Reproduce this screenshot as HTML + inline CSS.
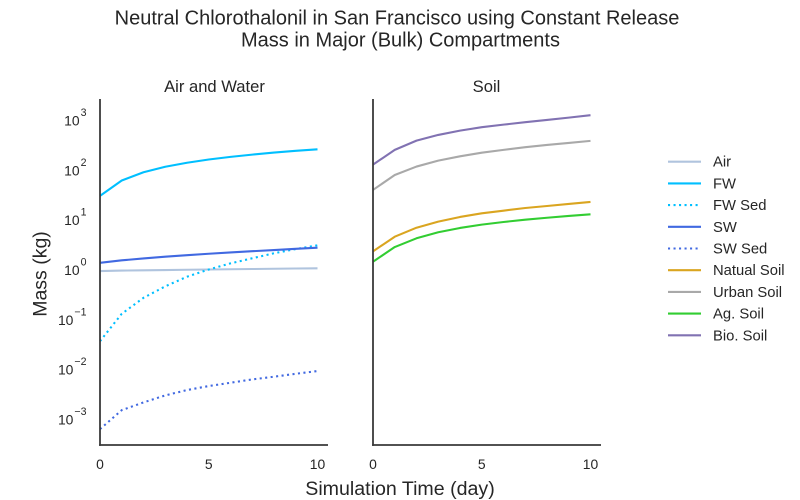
<!DOCTYPE html>
<html lang="en">
<head>
<meta charset="utf-8">
<title>Neutral Chlorothalonil in San Francisco</title>
<style>
html,body{margin:0;padding:0;background:#fff;}
svg{display:block;font-family:"Liberation Sans",Arial,sans-serif;fill:#262626;}
</style>
</head>
<body>
<svg id="chart" xmlns="http://www.w3.org/2000/svg" width="800" height="500" viewBox="0 0 800 500">
  <text x="397" y="24.5" font-size="20" text-anchor="middle">Neutral Chlorothalonil in San Francisco using Constant Release</text>
  <text x="400.5" y="46.5" font-size="20" text-anchor="middle">Mass in Major (Bulk) Compartments</text>
  <text x="214.5" y="92" font-size="16.6" text-anchor="middle">Air and Water</text>
  <text x="486.5" y="92" font-size="16.6" text-anchor="middle">Soil</text>
  <text transform="translate(46.5,274) rotate(-90)" font-size="19.5" text-anchor="middle">Mass (kg)</text>
  <text x="400" y="495" font-size="19.6" text-anchor="middle">Simulation Time (day)</text>
  <g id="panels"></g>
  <g id="legend"></g>
</svg>
<script>
const days = [0, 1, 2, 3, 4, 5, 6, 7, 8, 9, 10];
const xTickValues = [0, 5, 10];
const yTickExponents = [3, 2, 1, 0, -1, -2, -3];

const airValues = [0.79, 0.81, 0.82, 0.83, 0.84, 0.85, 0.86, 0.87, 0.88, 0.89, 0.90];
const fwValues = [25.5, 52, 76, 98, 118, 137, 155, 172, 189, 205, 220];
const fwSedValues = [0.031, 0.11, 0.23, 0.39, 0.61, 0.85, 1.13, 1.43, 1.80, 2.19, 2.6];
const swValues = [1.16, 1.3, 1.42, 1.54, 1.65, 1.76, 1.87, 1.98, 2.09, 2.21, 2.33];
const swSedValues = [0.000533, 0.00128, 0.00183, 0.00253, 0.00324, 0.0039, 0.00454, 0.0053, 0.006, 0.00687, 0.0078];
const naturalSoilValues = [1.97, 3.87, 5.87, 7.76, 9.64, 11.4, 12.9, 14.6, 16, 17.6, 19.3];
const urbanSoilValues = [33.6, 67, 99, 130, 159, 188, 214, 242, 269, 295, 324];
const agSoilValues = [1.22, 2.4, 3.6, 4.75, 5.8, 6.76, 7.65, 8.5, 9.3, 10.1, 10.9];
const bioSoilValues = [108, 214, 328, 427, 521, 610, 687, 768, 853, 950, 1062];

const seriesLabels = ['Air', 'FW', 'FW Sed', 'SW', 'SW Sed', 'Natual Soil', 'Urban Soil', 'Ag. Soil', 'Bio. Soil'];
const seriesKeys = ['air', 'fw', 'fw-sed', 'sw', 'sw-sed', 'natural-soil', 'urban-soil', 'ag-soil', 'bio-soil'];
const seriesColors = ['#b0c4de', '#00bfff', '#00bfff', '#4169e1', '#4169e1', '#daa520', '#a9a9a9', '#32cd32', '#8172b2'];
const seriesDotted = [false, false, true, false, true, false, false, false, false];
const seriesPanel = [0, 0, 0, 0, 0, 1, 1, 1, 1];
const seriesValues = [airValues, fwValues, fwSedValues, swValues, swSedValues, naturalSoilValues, urbanSoilValues, agSoilValues, bioSoilValues];

const NS = 'http://www.w3.org/2000/svg';
const panelOrigins = [100, 373];
const panelKeys = ['air-water', 'soil'];
const dayWidth = 21.75;
const axisTop = 99;
const axisBottom = 445;
const axisWidth = 228;

function xScale(panel, day) {
  return panelOrigins[panel] + day * dayWidth;
}
function yScale(value) {
  return 266 - 49.83 * Math.log10(value);
}
function make(tag, attrs) {
  const el = document.createElementNS(NS, tag);
  for (const k in attrs) el.setAttribute(k, attrs[k]);
  return el;
}

const panelsGroup = document.getElementById('panels');
const legendGroup = document.getElementById('legend');

panelOrigins.forEach(function (origin, p) {
  const g = make('g', {});
  
  
  panelsGroup.appendChild(g);

  seriesValues.forEach(function (vals, i) {
    if (seriesPanel[i] !== p) return;
    const pts = vals.map(function (v, j) {
      return xScale(p, days[j]).toFixed(2) + ',' + yScale(v).toFixed(2);
    }).join(' ');
    const line = make('polyline', {
      points: pts,
      fill: 'none',
      stroke: seriesColors[i],
      'stroke-width': 2.08,
      'stroke-linejoin': 'round'
    });
    if (seriesDotted[i]) line.setAttribute('stroke-dasharray', '2.08 3.43');
    
    
    g.appendChild(line);
  });

  const yAxis = make('line', { x1: origin, x2: origin, y1: axisTop, y2: axisBottom + 0.9, stroke: '#3a3a3a', 'stroke-width': 1.8 });
  
  
  g.appendChild(yAxis);

  const xAxis = make('line', { x1: origin - 0.9, x2: origin + axisWidth, y1: axisBottom, y2: axisBottom, stroke: '#3a3a3a', 'stroke-width': 1.8 });
  
  
  g.appendChild(xAxis);

  xTickValues.forEach(function (t) {
    const label = make('text', { x: xScale(p, t), y: 469, 'font-size': 13.9, 'text-anchor': 'middle' });
    label.textContent = String(t);
    
    
    g.appendChild(label);
  });
});

yTickExponents.forEach(function (e) {
  const baseY = yScale(Math.pow(10, e)) + 9;
  const label = make('text', { x: 86.5, y: baseY, 'font-size': 13.9, 'text-anchor': 'end' });
  label.appendChild(document.createTextNode('10'));
  const sup = make('tspan', { dx: 1, dy: -9.5, 'font-size': 10.6 });
  sup.textContent = e < 0 ? '\u2212' + Math.abs(e) : String(e);
  label.appendChild(sup);
  
  
  panelsGroup.appendChild(label);
});

seriesLabels.forEach(function (name, i) {
  const y = 161.7 + i * 21.7;
  const entry = make('g', {});
  
  
  const swatch = make('line', { x1: 668, x2: 701, y1: y, y2: y, stroke: seriesColors[i], 'stroke-width': 2.08 });
  if (seriesDotted[i]) swatch.setAttribute('stroke-dasharray', '2.08 3.43');
  
  
  entry.appendChild(swatch);
  const text = make('text', { x: 713, y: y + 5, 'font-size': 14.8 });
  text.textContent = name;
  
  
  entry.appendChild(text);
  legendGroup.appendChild(entry);
});
</script>
</body>
</html>
